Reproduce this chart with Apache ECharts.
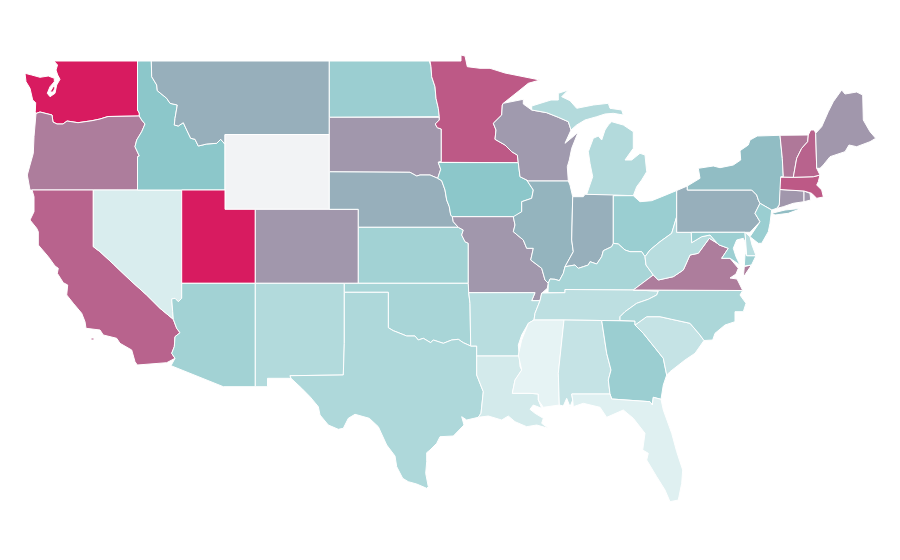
<!DOCTYPE html>
<html><head><meta charset="utf-8">
<style>html,body{margin:0;padding:0;background:#fff}#c{width:900px;height:560px}</style>
<script src="https://cdn.jsdelivr.net/npm/echarts@6/dist/echarts.min.js"></script>
</head><body><div id="c"></div>
<script>
// Values per state (Wyoming has no data)
const stateNames = ["Washington","Oregon","California","Nevada","Idaho","Montana","Wyoming","Utah","Arizona","Colorado","New Mexico","North Dakota","South Dakota","Nebraska","Kansas","Oklahoma","Texas","Minnesota","Iowa","Missouri","Arkansas","Louisiana","Wisconsin","Illinois","Indiana","Michigan","Ohio","Kentucky","Tennessee","Mississippi","Alabama","Georgia","Florida","South Carolina","North Carolina","Virginia","West Virginia","Pennsylvania","New York","Maryland","Delaware","New Jersey","Connecticut","Rhode Island","Massachusetts","Vermont","New Hampshire","Maine"];
const stateValues = [100,71.5,79,11.5,50,57,null,100,39,64,31,42.5,64,57,39,36,33,82,50,64,28,14.5,63,55.5,57,30.5,43,36,25.5,5,21.5,42.5,8.5,21.5,34,71.5,28,57,53,42,28,43,64,64,82,73,79,64];
const colorStops = ["#f0f8f9","#8cc7ca","#d81b60"];
const noDataColor = "#f2f3f5";

// Traced state outlines in map units; several rings for a state are separated by "|"
const outlines = {
"Washington":"54,61 137.5,61 137.5,110 139.3,113 139.3,116 108,116.5 100,119 92,120.7 78,122.7 67,121 63,124 57,124 53,122 52,115 40,112 36,113.5 35.3,111.7 35.7,102.7 32.7,100 30,88.3 26,81.7 25,73.3 31.7,75 40,77.3 48.3,76 54.3,78.3 54.3,81.7 50,86.7 47.3,93.3 50,96.7 55,93.3 56.7,85 60,79.3 57.7,75 56,70 57.5,65|50,92 54,85.5 55,88 53,92",
"Oregon":"36,113.5 40,112 52,115 53,122 57,124 63,124 67,121 78,122.7 92,120.7 100,119 108,116.5 139.3,116 141.7,120 145,124 141.7,131.7 136.7,140 135,146.7 139.3,156 137.5,156.7 137.5,190 30,190 27.3,175 30,165 33.3,153.3 34,136.7",
"California":"32,190 93.3,190 93.3,246.7 100,251.7 113.3,264 130,280 146.7,295 160,308.3 173.3,319.3 176.7,328.3 180,332.7 175,336.7 174.3,346.7 171.7,353.3 175,358.3 166.7,362.7 137.3,365 135,361.7 131.7,350 120,343.3 116.7,338.3 103.3,335 100,330 86,328.3 85,321.7 81.7,313.3 73.3,303.3 66.7,295 67.7,285 63.3,282.7 57.3,273.3 58.3,268.3 55,266 48.3,256.7 38.3,245 38.3,231.7 36.7,228.3 30,220 34,211.7 34,196.7|91,338 94,338 94,340 91,340",
"Nevada":"93.3,190 181.7,190 181.7,298.3 178.3,301.7 175,298.3 171.7,299 172.7,311.7 173.3,319.3 160,308.3 146.7,295 130,280 113.3,264 100,251.7 93.3,246.7",
"Idaho":"137.5,61 151.3,61 151.7,76.7 156.7,85 157.3,90.7 166.7,98.3 170,103.3 177.3,105 175,118.3 174.3,125 178.3,126 183.3,122.7 186.7,130 190.7,138.3 195,139.3 198.3,146 206.7,144 216.7,143.3 220.7,139.3 225,144.3 225,190 137.5,190 137.5,156.7 139.3,156 135,146.7 136.7,140 141.7,131.7 145,124 141.7,120 139.3,116 139.3,113 137.5,110",
"Montana":"151.3,61 329.3,61 329.3,134.5 225,134.5 225,144.3 220.7,139.3 216.7,143.3 206.7,144 198.3,146 195,139.3 190.7,138.3 186.7,130 183.3,122.7 178.3,126 174.3,125 175,118.3 177.3,105 170,103.3 166.7,98.3 157.3,90.7 156.7,85 151.7,76.7",
"Wyoming":"225,134.5 329.3,134.5 329.3,209.3 225,209.3",
"Utah":"181.7,190 225,190 225,209.3 255.3,209.3 255.3,283.3 181.7,283.3",
"Arizona":"181.7,283.3 255.3,283.3 255.3,386.7 223.3,386.7 171,365.7 175,358.3 171.7,353.3 174.3,346.7 175,336.7 180,332.7 176.7,328.3 173.3,319.3 172.7,311.7 171.7,299 175,298.3 178.3,301.7 181.7,298.3",
"Colorado":"255.3,209.3 358.3,209.3 358.3,283.3 255.3,283.3",
"New Mexico":"255.3,283.3 344.3,283.3 344.3,343.3 343.3,375 290,375.7 291,378.3 267.5,378.3 267.5,386.7 255.3,386.7",
"North Dakota":"329.3,61 429.3,61 431,66.7 431.7,76.7 435,86.7 436,98.3 438.3,108.3 439.3,116.7 439.3,117.3 329.3,117.3",
"South Dakota":"329.3,117.3 439.3,117.3 439.3,120 435.3,124 437.3,127.7 441.3,129 441.3,161.7 438.3,162.3 440.7,169.3 437.7,178.3 430,175 420,175 416.7,176 410,172.3 329.3,171.8",
"Nebraska":"329.3,171.8 410,172.3 416.7,176 420,175 430,175 437.7,178.3 441.7,180.7 445,190 446.7,200 449.3,206.7 450.7,215 452.3,216.7 453.3,221.7 458.3,227.3 358.3,227.3 358.3,209.3 329.3,209.3",
"Kansas":"358.3,227.3 458.3,227.3 463.3,230 461.7,235 465,241.7 468.3,243.3 468.3,283.3 358.3,283.3",
"Oklahoma":"344.3,283.3 468.3,283.3 468.7,292.7 470,303.3 470.7,346 463.3,342.7 458.3,339.3 451.7,340 443.3,343.3 433.3,340 430.7,342.7 423.3,338.3 418.3,340 415,336 406.7,336 400,333.3 393.3,330.7 388.3,327.7 388.3,292.3 344.3,292.3",
"Texas":"344.3,292.3 388.3,292.3 388.3,327.7 393.3,330.7 400,333.3 406.7,336 415,336 418.3,340 423.3,338.3 430.7,342.7 433.3,340 443.3,343.3 451.7,340 458.3,339.3 463.3,342.7 470.7,346 476.7,346 476.7,375 483.3,391.7 481,413.3 478.3,417.3 466.7,420 461.7,416.7 464,425 453.3,436 440,436.7 436.7,443.3 430,450 426.7,452.7 426.7,461.7 425.7,473.3 428.3,486.7 426.7,488.3 416.7,484 408.3,481.7 402.7,478.3 396.7,466.7 395,456 386.7,445 378.3,426.7 369.3,418.3 355,414.3 348.3,418.3 343.3,428.3 338.3,429.3 328.3,425 320,415 318.3,406.7 310,396.7 301.7,388.3 291,378.3 290,375.7 343.3,375 344.3,343.3",
"Minnesota":"430,61 461,61 461,55 465,56 467.3,66.7 480,68.3 490,68.3 505,73 520,76 540,80 528.3,83.3 520,90 503.3,103.3 502.3,105 501.7,115 493.3,123.3 496,130 495,139.3 505,145 511.7,151.7 517.3,155 518.3,162.7 438.3,162.3 441.3,161.7 441.3,129 437.3,127.7 435.3,124 439.3,120 439.3,116.7 438.3,108.3 436,98.3 435,86.7 431.7,76.7 431,66.7",
"Iowa":"438.3,162.5 518.3,162.7 520,176.7 526.7,180 533.3,190 531.7,198.3 521.7,201.7 521.7,211.7 515,216.7 452.3,216.7 450.7,215 449.3,206.7 446.7,200 445,190 441.7,180.7 437.7,178.3 440.7,169.3",
"Missouri":"452.3,216.7 515,216.7 513.3,216.7 515,225 513.3,231.7 523.3,240 526.7,248.3 533.3,248.3 530.7,260 541.7,268.3 545,280 548.3,283.3 547.3,288.3 541.7,293.3 540,300.7 531.7,300.7 535,292.7 468.7,292.7 468.3,283.3 468.3,243.3 465,241.7 461.7,235 463.3,230 458.3,227.3 453.3,221.7",
"Arkansas":"468.7,292.7 535,292.7 531.7,300.7 540,300.7 535,313.3 534,320 528.3,323.3 521.7,335 518.3,345 519.3,356 476.7,356 476.7,346 470.7,346 470,303.3",
"Louisiana":"476.7,356 519.3,356 520,366.7 521.7,370 515,380 512.3,393.3 530,393.3 538.3,394 538.3,400 541.7,408.3 533.3,405 530,409.3 535,413.3 543.3,418.3 541.7,423.3 548.3,428.3 536.7,425 526.7,426.7 515,421.7 508.3,416 501.7,420 488.3,416 478.3,417.3 481,413.3 483.3,391.7 476.7,375",
"Wisconsin":"503.3,103.3 523.3,99.3 523.3,104 531.7,110 546.7,112.7 558.3,117.3 568.3,121.7 571,130 565,143.3 573,136.7 578.3,131.7 571.7,148.3 569.3,160 567.3,166.7 568.3,181 528.3,181 526.7,180 520,176.7 518.3,162.7 517.3,155 511.7,151.7 505,145 495,139.3 496,130 493.3,123.3 501.7,115 502.3,105",
"Illinois":"528.3,181 568.3,181 570,185 572.7,196.7 571.7,240 573.3,251.7 565,266.7 563.3,273.3 559.3,280.7 555,279.3 550,279 548.3,283.3 545,280 541.7,268.3 530.7,260 533.3,248.3 526.7,248.3 523.3,240 513.3,231.7 515,225 513.3,216.7 521.7,211.7 521.7,201.7 531.7,198.3 533.3,190 526.7,180",
"Indiana":"572.7,196.7 583.3,196.7 585,194.3 613.3,194.3 613.3,243.3 611.7,246.7 603.3,250.7 601.7,256.7 596.7,264 590,261.7 588.3,265 583.3,266.7 578.3,268.3 575,265 565,266.7 573.3,251.7 571.7,240",
"Michigan":"586.7,194.3 613.3,195 633.3,195.7 636.7,186.7 641.7,180 646.7,171.7 645,155 640,153.3 631.7,160 625,160 633.3,148.3 633.3,131.7 623.3,125 611.7,121.7 608.3,125 605,130 601.7,140 598.3,136 593.3,138.3 588.3,151.7 590,163.3 592.7,176.7|531.7,106 551,100 558.3,100 558.3,93.3 568.3,90 561.7,96.7 570,100.7 576.7,108.3 593.3,105 608.3,103.3 610,108.3 621.7,110 623.3,115 613.3,113.3 605,114 596.7,116.7 585,120 576.7,125 571,130 568.3,121.7 558.3,117.3 546.7,112.7 531.7,110",
"Ohio":"613.3,195.7 633.3,195.7 640,201.7 651.7,200.7 661.7,196.7 676.7,190.5 676.7,216.7 671.7,233.3 660,241.7 650,250 645,256.7 641.7,251.7 630,251.7 625,250 618.3,244 613.3,243.3",
"Kentucky":"613.3,243.3 618.3,244 625,250 630,251.7 641.7,251.7 645,256.7 646,265 653.3,275 633.3,290 565,289.5 565,292.7 548,292.7 548.3,283.3 550,279 555,279.3 559.3,280.7 563.3,273.3 565,266.7 575,265 578.3,268.3 583.3,266.7 588.3,265 590,261.7 596.7,264 601.7,256.7 603.3,250.7 611.7,246.7",
"Tennessee":"541.7,293 565,292.7 565,289.5 633.3,290 658.3,291 656.7,295 648.3,299.3 636.7,303.3 625,311.7 620,316.7 620,320.5 601.7,320.5 564,320 534,320 535,313.3 540,300.7",
"Mississippi":"534,320 564,320 558.3,373.3 559.3,405 543.3,407.3 538.3,400 538.3,394 530,393.3 512.3,393.3 515,380 521.7,370 518.3,355 521.7,340 528.3,323.3",
"Alabama":"564,320 601.7,320.5 606.7,353.3 611,370 608.3,380 610,394 571.7,394 572.7,400 570,406.7 566.7,398.3 563.3,406 559.3,405 558.3,373.3",
"Georgia":"601.7,320.5 635,321 635,325 643.3,333.3 656.7,350 663.3,358.3 666.7,375 663.3,385 661,399.3 653.3,397.3 652.3,405 650,401.7 611.7,399 610,394 608.3,380 611,370 606.7,353.3",
"Florida":"571.7,394 610,394 611.7,399 650,401.7 652.3,405 653.3,397.3 661,399.3 663.3,410 671.7,433.3 676.7,451.7 682.7,470 681.7,483.3 678.3,500 670,501.7 665,490 656.7,476.7 646.7,460 648.3,453.3 642.7,450 645,433.3 633.3,418.3 623.3,410 606.7,417.3 600,407.3 583.3,403.3 573.3,406.7 572.7,400",
"South Carolina":"635,325 646.7,316.7 660,316.7 671.7,319.3 690,323.3 700,335 704,340.5 695,353.3 685,360 670,371.7 666.7,375 663.3,358.3 656.7,350 643.3,333.3",
"North Carolina":"658.3,291 633.3,290 742.7,290.5 740,295 746,303.3 743.3,311.7 735,311.7 735,321.7 725,325 715,333.3 712.7,340 704,340.5 700,335 690,323.3 671.7,319.3 660,316.7 646.7,316.7 635,325 635,321 620,320.5 620,316.7 625,311.7 636.7,303.3 648.3,299.3 656.7,295",
"Virginia":"633.3,290 653.3,275 658.3,280 673.3,276.7 683.3,270 690,255 698.3,253.3 709.3,238.3 717.3,243.3 719.3,245 728.3,248.3 721.7,258.3 730,258.3 738.3,268.3 736,274 730,278 737,279 739.5,284 742.7,290.5|751.5,265 743.3,277.3 744.3,266.5",
"West Virginia":"676.7,216.7 676.7,232.3 691.3,232.3 691.7,242.7 701.7,236.7 710,235 717.3,243.3 709.3,238.3 698.3,253.3 690,255 683.3,270 673.3,276.7 658.3,280 653.3,275 646,265 645,256.7 650,250 660,241.7 671.7,233.3",
"Pennsylvania":"676.7,190.5 687.3,186 687.3,190 751.7,190 756.7,195 758.3,200 760,203.3 755,213.3 760,221.7 750,232.3 676.7,232.3",
"New York":"687.3,190 687.3,186 700,178.3 698.3,168.3 713.3,166 720,167.7 733.3,165 740.7,160 740,150.7 748.3,145 750,140 757.3,136 780,135.3 782.3,158.3 783.3,176.7 780.7,188.3 779.3,205 776.7,208.3 771.7,210 760,203.3 758.3,200 756.7,195 751.7,190|771.7,213.3 785,210 801.7,208.3 788.3,213.3 775,215",
"Maryland":"691.3,232.3 745,232.3 746.7,255.7 756,255.7 751.5,265 744.3,266 745,255 747.3,246.7 743.3,238.3 736.7,240 733.3,248.3 736,256.7 740,265 730,258.3 721.7,258.3 728.3,248.3 719.3,245 717.3,243.3 710,235 701.7,236.7 691.7,242.7",
"Delaware":"745,232.3 750,236.7 752,245 756,255.7 746.7,255.7",
"New Jersey":"760,203.3 771.7,210 770,223.3 768.3,231.7 761.7,243.3 758.3,243.3 750,236.7 760,221.7 755,213.3",
"Connecticut":"780,189.5 804,191 804,201.7 793.3,203.3 783.3,206.7 777.3,208.3 779.3,205",
"Rhode Island":"804,191 810,193.3 810.7,200 804,201.7",
"Massachusetts":"780.7,177 793.3,177.3 813.3,176.7 820,175 818.3,181.7 816.7,185 821.7,190 823.3,196.7 830,195.7 816.7,198.3 811.7,193.3 804,191 780,189.5",
"Vermont":"780,135.3 808.3,135 807.7,141.7 801.7,148.3 796.7,158.3 793.3,177.3 780.7,177 783.3,176.7 782.3,158.3",
"New Hampshire":"810.7,130 814.3,130 815.7,133.3 816.7,168.3 820,175 813.3,176.7 793.3,177.3 796.7,158.3 801.7,148.3 807.7,141.7 808.3,135",
"Maine":"815.7,133.3 821.7,126.7 828.3,111.7 833.3,101.7 841.7,90 845,94 856.7,92 862.7,95 863.3,120 870,131.7 875.7,138.3 870,141.7 856.7,146.7 849,145 845,151.7 830,156.7 823.3,165 820,168.3 816.7,168.3"
};

const ring = s => { const r = s.trim().split(/\s+/).map(p => p.split(",").map(Number)); r.push(r[0]); return r; };
const usa = { type:"FeatureCollection", features: stateNames.map(n => ({
  type:"Feature", properties:{name:n},
  geometry:{ type:"MultiPolygon", coordinates: outlines[n].split("|").map(s => [ring(s)]) }
}))};
echarts.registerMap("usa", usa);

const chart = echarts.init(document.getElementById("c"), null, {renderer:"canvas"});
const all = usa.features.flatMap(f => f.geometry.coordinates.flat(2));
const xs = all.map(p=>p[0]), ys = all.map(p=>p[1]);
const x0 = Math.min(...xs), x1 = Math.max(...xs), y0 = Math.min(...ys), y1 = Math.max(...ys);
chart.setOption({
  animation:false,
  backgroundColor:"#fff",
  visualMap:{ show:false, type:"continuous", min:0, max:100, seriesIndex:0, inRange:{color:colorStops} },
  series:[{
    type:"map", map:"usa", roam:false, silent:true,
    projection:{ project:p=>p, unproject:p=>p },
    left:x0, top:y0, width:x1-x0, height:y1-y0,
    label:{show:false},
    itemStyle:{ areaColor:noDataColor, borderColor:"#fff", borderWidth:1 },
    emphasis:{disabled:true}, select:{disabled:true},
    data: stateNames.map((name,i)=>({name, value: stateValues[i]}))
  }]
});
</script></body></html>
